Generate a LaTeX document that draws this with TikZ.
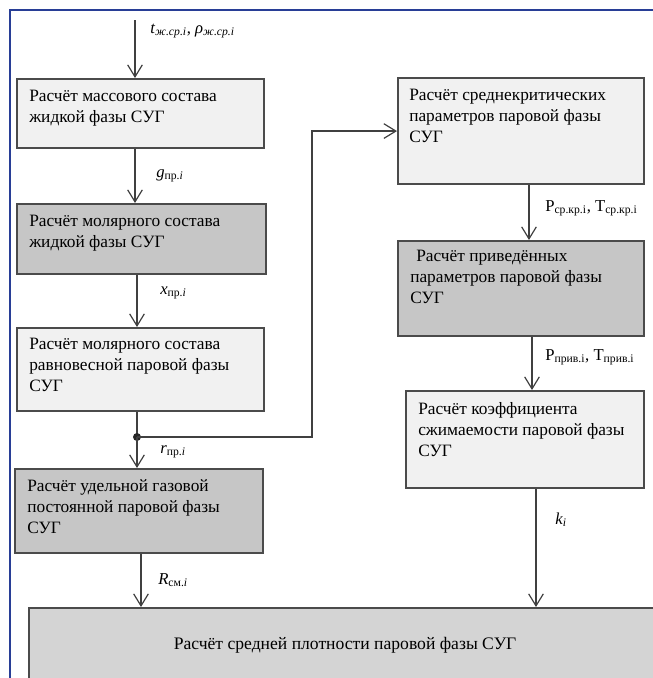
\documentclass[tikz,border=0pt]{standalone}
\usepackage{fontspec}
\setmainfont{Liberation Serif}
\usetikzlibrary{arrows.meta,calc}
\definecolor{frameblue}{RGB}{40,62,150}
\definecolor{boxlite}{RGB}{241,241,241}
\definecolor{boxdark}{RGB}{198,198,198}
\definecolor{boxmid}{RGB}{212,212,212}
\definecolor{edge}{RGB}{75,75,75}
\newdimen\px \px=0.75pt
\tikzset{
  blk/.style={draw=edge, line width=1.6pt, anchor=north west, inner sep=0pt},
  lite/.style={blk, fill=boxlite},
  dark/.style={blk, fill=boxdark},
  btxt/.style={anchor=north west, inner sep=0pt, align=left, font=\fontsize{13}{15.8}\selectfont},
  flow/.style={-{Straight Barb[length=9pt,width=11pt]}, line width=0.9pt, draw=black!75},
  sig/.style={anchor=west, inner sep=0pt, font=\fontsize{12.5}{14}\selectfont},
}

\begin{document}
\begin{tikzpicture}[x=0.75pt, y=-0.75pt]
  \useasboundingbox (0,0) rectangle (653,678);
  \clip (0,0) rectangle (653,678);
  % --- frame ---
  \draw[frameblue, line width=2pt] (10,680) -- (10,10) -- (655,10);

  % --- left column ---
  \node[lite, minimum width=247\px, minimum height=69\px] (b1) at (16,78) {};
  \node[btxt] (b1t) at (29,90) {Расчёт массового состава\\жидкой фазы СУГ};
  \node[dark, minimum width=249\px, minimum height=70\px] (b2) at (16,203) {};
  \node[btxt] (b2t) at (29,215) {Расчёт молярного состава\\жидкой фазы СУГ};
  \node[lite, minimum width=247\px, minimum height=83\px] (b3) at (16,327) {};
  \node[btxt] (b3t) at (29,338) {Расчёт молярного состава\\равновесной паровой фазы\\СУГ};
  \node[dark, minimum width=248\px, minimum height=84\px] (b4) at (14,468) {};
  \node[btxt] (b4t) at (27,479) {Расчёт удельной газовой\\постоянной паровой фазы\\СУГ};

  % --- right column ---
  \node[lite, minimum width=246\px, minimum height=106\px] (b5) at (397,77) {};
  \node[btxt] (b5t) at (409,89) {Расчёт среднекритических\\параметров паровой фазы\\СУГ};
  \node[dark, minimum width=246\px, minimum height=95\px] (b6) at (397,240) {};
  \node[btxt] (b6t) at (410,250) {\hspace{6\px}Расчёт приведённых\\параметров паровой фазы\\СУГ};
  \node[lite, minimum width=238\px, minimum height=97\px] (b7) at (405,390) {};
  \node[btxt] (b7t) at (418,402) {Расчёт коэффициента\\сжимаемости паровой фазы\\СУГ};

  % --- result ---
  \node[blk, fill=boxmid, minimum width=632\px, minimum height=75\px,
        font=\fontsize{13.2}{15}\selectfont] (b8) at (28,607) {Расчёт средней плотности паровой фазы СУГ};

  % --- flows ---
  \coordinate (in) at (135,20);
  \coordinate (cl) at (137,0);
  \coordinate (cr) at (141,0);
  \coordinate (jn) at (137,437);
  \draw[flow] (in) -- (in |- b1.north);
  \draw[flow] (in |- b1.south) -- (in |- b2.north);
  \draw[flow] (cl |- b2.south) -- (cl |- b3.north);
  \draw[line width=0.9pt, black!75] (jn |- b3.south) -- (jn);
  \fill[black!85] (jn) circle (4);
  \draw[flow] (jn) -- ++(175,0) |- (b5.west);
  \draw[flow] (jn) -- (jn |- b4.north);
  \draw[flow] (cr |- b4.south) -- (cr |- b8.north);

  \coordinate (r1) at (529,0);
  \coordinate (r2) at (532,0);
  \coordinate (r3) at (536,0);
  \draw[flow] (r1 |- b5.south) -- (r1 |- b6.north);
  \draw[flow] (r2 |- b6.south) -- (r2 |- b7.north);
  \draw[flow] (r3 |- b7.south) -- (r3 |- b8.north);

  % --- signals ---
  \node[sig] (sin) at (150,31) {\textit{t}\textsubscript{\textit{ж.ср.i}}, \textit{ρ}\textsubscript{\textit{ж.ср.i}}};
  \node[sig] (sg) at (156,176) {\textit{g}\textsubscript{пр.\textit{i}}};
  \node[sig] (sx) at (160,293) {\textit{x}\textsubscript{пр.\textit{i}}};
  \node[sig] (sr) at (160,452) {\textit{r}\textsubscript{пр.\textit{i}}};
  \node[sig] (sR) at (158,580) {\textit{R}\textsubscript{см.\textit{i}}};
  \node[sig] (spk) at (545,208) {P\textsubscript{ср.кр.i}, T\textsubscript{ср.кр.i}};
  \node[sig] (spp) at (545,357) {P\textsubscript{прив.i}, T\textsubscript{прив.i}};
  \node[sig] (sk) at (555,520) {\textit{k}\textsubscript{\textit{i}}};
\end{tikzpicture}
\end{document}
